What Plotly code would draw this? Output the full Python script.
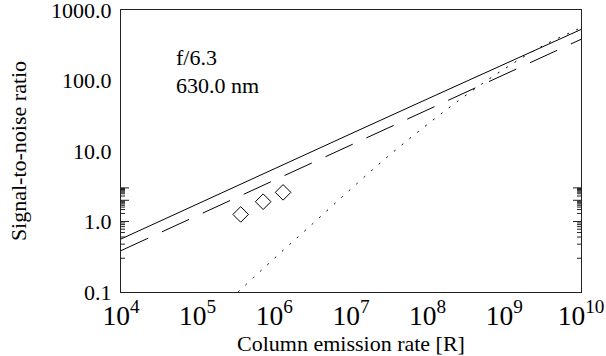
import math
import plotly.graph_objects as go

# Column emission rate [R] at each decade
rate = [1e4, 1e5, 1e6, 1e7, 1e8, 1e9, 1e10]
snr_solid = [0.565, 1.79, 5.6, 17.6, 55.0, 172.0, 530.0]
snr_dashed = [0.386, 1.22, 3.8, 12.1, 38.2, 121.0, 384.0]

# Dotted curve (noise-limited case)
rate_dotted = [3.35e5, 1e6, 3.16e6, 1e7, 3.16e7, 1e8, 3.16e8, 1e9, 3.16e9, 1e10]
snr_dotted = [0.1, 0.30, 0.93, 2.9, 8.7, 24.0, 62.0, 146.0, 310.0, 560.0]

# Measured points
rate_meas = [3.64e5, 7.15e5, 1.30e6]
snr_meas = [1.26, 1.91, 2.59]

notes = ["f/6.3", "630.0 nm"]

FONT = "Liberation Serif"
FS = 22
X_RANGE = (4, 10)
Y_RANGE = (-1, 3.0005)
W, H = 606, 356
MARGIN = dict(l=121, r=25, t=10, b=64)
PLOT_W = W - MARGIN["l"] - MARGIN["r"]
PLOT_H = H - MARGIN["t"] - MARGIN["b"]

fig = go.Figure()
fig.add_trace(go.Scatter(x=rate, y=snr_solid, mode="lines",
                         line=dict(color="black", width=1)))
fig.add_trace(go.Scatter(x=rate, y=snr_dashed, mode="lines",
                         line=dict(color="black", width=1, dash="30px,15px")))
fig.add_trace(go.Scatter(x=rate_dotted, y=snr_dotted, mode="lines", line_shape="spline",
                         line=dict(color="black", width=1, dash="2px,8px")))
fig.add_trace(go.Scatter(x=rate_meas, y=snr_meas, mode="markers",
                         marker=dict(symbol="diamond-open", size=12, color="black",
                                     line=dict(width=1, color="black"))))

# IDL-style inside tick marks on all four sides of the frame
x_major = [10.0 ** k for k in range(X_RANGE[0], X_RANGE[1] + 1)]
x_minor = [m * 10.0 ** k for k in range(X_RANGE[0], X_RANGE[1]) for m in range(2, 10)]
y_major = [10.0 ** k for k in range(-1, 4)]
y_minor = [m * 10.0 ** k for k in range(-1, 3) for m in range(2, 10)]

tick_line = dict(color="#222", width=1)
for vals, length in ((x_major, 7), (x_minor, 4)):
    frac = length / PLOT_H
    for v in vals:
        lx = math.log10(v)
        fig.add_shape(type="line", xref="x", yref="paper", x0=lx, x1=lx, y0=0, y1=frac,
                      line=tick_line, layer="above")
        fig.add_shape(type="line", xref="x", yref="paper", x0=lx, x1=lx, y0=1, y1=1 - frac,
                      line=tick_line, layer="above")
for vals, length in ((y_major, 8), (y_minor, 4)):
    frac = length / PLOT_W
    for v in vals:
        ly = math.log10(v)
        fig.add_shape(type="line", xref="paper", yref="y", x0=0, x1=frac, y0=ly, y1=ly,
                      line=tick_line, layer="above")
        fig.add_shape(type="line", xref="paper", yref="y", x0=1, x1=1 - frac, y0=ly, y1=ly,
                      line=tick_line, layer="above")

for note, ypx in zip(notes, [47, 75]):
    fig.add_annotation(x=0, y=3 - ypx / 70.5, xref="paper", yref="y", text=note,
                       showarrow=False, xanchor="left", yanchor="middle", xshift=53,
                       font=dict(size=FS, family=FONT, color="black"))

axis_common = dict(
    showgrid=False, zeroline=False, showline=True, linecolor="#222", linewidth=1,
    mirror=True, ticks="",
    tickfont=dict(size=FS, family=FONT, color="black"),
    ticklabeloverflow="allow", automargin=False,
)

fig.update_xaxes(type="log", range=list(X_RANGE), tickmode="linear", tick0=0, dtick=1,
                 exponentformat="power",
                 title=dict(text="Column emission rate [R]", standoff=1,
                            font=dict(size=FS, family=FONT, color="black")),
                 **axis_common)
fig.update_yaxes(type="log", range=list(Y_RANGE), tickmode="linear", tick0=0, dtick=1,
                 tickformat=".1f", ticklabelstandoff=4,
                 title=dict(text="Signal-to-noise ratio", standoff=18,
                            font=dict(size=FS, family=FONT, color="black")),
                 **axis_common)

fig.update_layout(width=W, height=H, showlegend=False, margin=MARGIN,
                  plot_bgcolor="white", paper_bgcolor="white",
                  font=dict(family=FONT, color="black"))

fig.write_html("out.html")
